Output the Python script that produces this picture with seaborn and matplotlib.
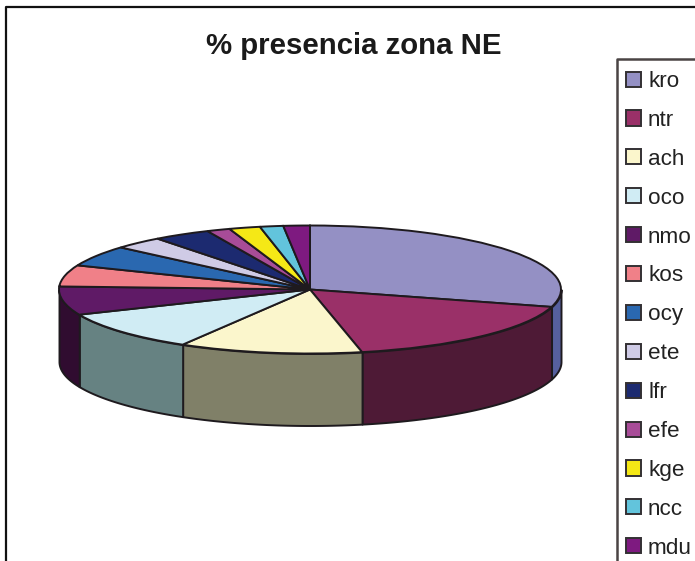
import numpy as np
import matplotlib
matplotlib.use("Agg")
import matplotlib.pyplot as plt
from matplotlib.lines import Line2D
import seaborn as sns

labels = ["kro", "ntr", "ach", "oco", "nmo", "kos", "ocy", "ete", "lfr", "efe", "kge", "ncc", "mdu"]
values = [29.4, 17.3, 11.8, 10.1, 7.2, 5.4, 5.25, 3.2, 3.7, 1.5, 2.0, 1.5, 1.7]
top_colors = ["#9490C4", "#9A3068", "#FBF6CC", "#D0ECF4", "#5F1A66", "#F08088", "#2A68B0",
              "#CFCBE6", "#1C2A70", "#A84C98", "#F5E816", "#62C4DC", "#7E1A80"]
side_colors = ["#56609E", "#4E1A36", "#808068", "#668282", "#300C30", "#804044", "#143458",
               "#686674", "#0E1538", "#54264C", "#7A740B", "#31626E", "#3F0D40"]
title = "% presencia zona NE"

W, H = 695, 561
CX, CY, RX, RY, DEPTH = 310.0, 289.5, 251.0, 64.0, 72.0

sns.set_theme(style="white")
plt.rcParams["font.family"] = ["Liberation Sans", "DejaVu Sans"]
palette = sns.color_palette(top_colors)
side_palette = sns.color_palette(side_colors)

fig = plt.figure(figsize=(W / 100, H / 100), dpi=100, facecolor="white")
ax = fig.add_axes([0, 0, 1, 1])

edge = "#1E1A1E"
wedges, _ = ax.pie(values, colors=palette, startangle=90, counterclock=False, radius=1,
                   wedgeprops=dict(edgecolor=edge, linewidth=1.4, zorder=5))
ax.set_aspect("auto")
ax.set_xlim(-CX / RX, (W - CX) / RX)
ax.set_ylim((CY - H) / RY, CY / RY)
ax.axis("off")

# visible cylinder wall, derived from the slice values
bounds = np.concatenate([[0], np.cumsum(values)]) / np.sum(values) * 2 * np.pi
h = DEPTH / RY
for i in range(len(values)):
    a, b = max(bounds[i], np.pi / 2), min(bounds[i + 1], 3 * np.pi / 2)
    if b <= a:
        continue
    t = np.linspace(a, b, 80)
    x, y = np.sin(t), np.cos(t)
    ax.fill_between(x, y - h, y, color=side_palette[i], edgecolor=edge, linewidth=1.4, zorder=3)

fig.text(354 / W, 1 - 45.5 / H, title, ha="center", va="center", fontsize=21.2,
         fontweight="bold", color="#1A1A1A")

# outer chart border (top and left only are inside the crop)
fig.add_artist(Line2D([6 / W, 6 / W, 1], [0, 1 - 7 / H, 1 - 7 / H], color="#111111", lw=1.6))
# legend border runs off the crop to the right and the bottom
fig.add_artist(Line2D([617 / W, 617 / W, 1], [0, 1 - 59 / H, 1 - 59 / H], color="#4A4444", lw=1.8))

leg = ax.legend(wedges, labels, loc="upper left", bbox_to_anchor=(617 / W, 1 - 62 / H),
                bbox_transform=fig.transFigure, borderaxespad=0, fontsize=16.2,
                frameon=False,
                borderpad=0.4, labelspacing=0.795, handlelength=0.66, handleheight=0.66,
                handletextpad=0.32, labelcolor="#222222")
for hd in leg.get_patches():
    hd.set_linewidth(1.4)
    hd.set_edgecolor("#333033")

fig.savefig("out.png", dpi=100)
